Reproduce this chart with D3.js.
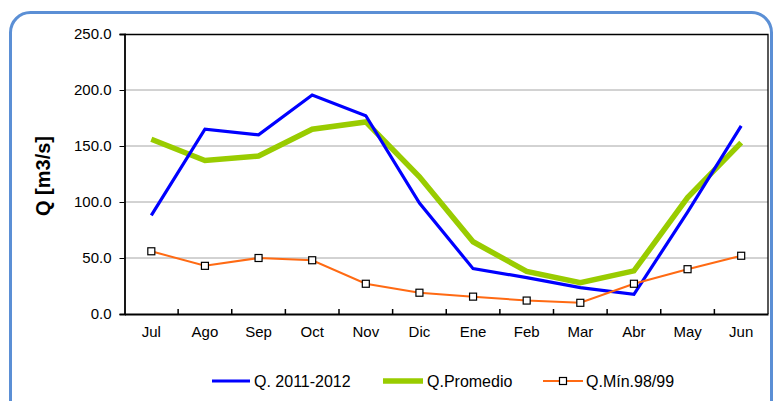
<!DOCTYPE html>
<html><head><meta charset="utf-8">
<script src="https://cdn.jsdelivr.net/npm/d3@7"></script>
<style>body{margin:0;background:#fff;}svg{display:block;font-family:"Liberation Sans",Arial,sans-serif;}</style>
</head><body><svg id="c" width="774" height="401"></svg>
<script>
const categories = ["Jul","Ago","Sep","Oct","Nov","Dic","Ene","Feb","Mar","Abr","May","Jun"];
const q2011 = [88,165,160,195.5,177,99,40.5,32.5,23.5,17.5,91,168];
const qProm = [156,137,141,165,171.5,122.5,64.5,38,28,38.5,104,153];
const qMin = [56,43,50,48,27,19,15.5,12,10,27,40,52];
const yTicks = [0,50,100,150,200,250];
const seriesNames = ["Q. 2011-2012","Q.Promedio","Q.Mín.98/99"];

const svg = d3.select("#c");
const L=124.5, R=768, T=34, B=314;
const x = d3.scaleBand().domain(categories).range([L,R]).padding(0);
const y = d3.scaleLinear().domain([0,250]).range([B,T]);
const cx = d => x(d)+x.bandwidth()/2;

// outer frame
svg.append("rect").attr("x",10.5).attr("y",12.5).attr("width",761).attr("height",420)
  .attr("rx",20).attr("fill","none").attr("stroke","#5b8fd5").attr("stroke-width",3);

// grid
svg.append("g").selectAll("line").data(yTicks.filter(v=>v>0&&v<250)).join("line")
  .attr("x1",L).attr("x2",R).attr("y1",d=>y(d)).attr("y2",d=>y(d))
  .attr("stroke","#a6a6a6").attr("stroke-width",1);

// top and right border
svg.append("path").attr("d",`M${L},${T+0.5}H${R}V${B}`).attr("fill","none").attr("stroke","#000").attr("stroke-width",1.3);

// y axis
const yAxis = d3.axisLeft(y).tickValues(yTicks).tickSize(5).tickPadding(8).tickFormat(d3.format(".1f"));
const gy = svg.append("g").attr("transform",`translate(${L},0)`).call(yAxis);
gy.select(".domain").attr("stroke","#000").attr("stroke-width",1.8);
gy.selectAll(".tick line").attr("stroke","#000");
gy.selectAll("text").attr("font-size",15).attr("fill","#000").style("font-family","Liberation Sans, Arial, sans-serif");

// x axis
const xAxis = d3.axisBottom(x).tickSize(0).tickPadding(12);
const gx = svg.append("g").attr("transform",`translate(0,${B})`).call(xAxis);
gx.select(".domain").attr("stroke","#000").attr("stroke-width",2.2);
gx.selectAll("text").attr("font-size",15).attr("fill","#000").style("font-family","Liberation Sans, Arial, sans-serif");
// inward ticks at category boundaries
svg.append("g").selectAll("line").data(categories.slice(1)).join("line")
  .attr("x1",d=>x(d)).attr("x2",d=>x(d)).attr("y1",B).attr("y2",B-5)
  .attr("stroke","#000").attr("stroke-width",1.5);

// y title
svg.append("text").attr("transform","translate(50,176) rotate(-90)")
  .attr("text-anchor","middle").attr("font-size",20).attr("font-weight","bold").text("Q [m3/s]");

const line = d3.line().x((d,i)=>cx(categories[i])).y(d=>y(d));
svg.append("path").datum(qProm).attr("d",line).attr("fill","none").attr("stroke","#99cc00").attr("stroke-width",5.5).attr("stroke-linejoin","miter");
svg.append("path").datum(q2011).attr("d",line).attr("fill","none").attr("stroke","#0000ff").attr("stroke-width",3.2).attr("stroke-linejoin","miter");
svg.append("path").datum(qMin).attr("d",line).attr("fill","none").attr("stroke","#ff6a13").attr("stroke-width",2);
svg.append("g").selectAll("rect").data(qMin).join("rect")
  .attr("x",(d,i)=>cx(categories[i])-3.5).attr("y",d=>y(d)-3.5).attr("width",7).attr("height",7)
  .attr("fill","#fff").attr("stroke","#000").attr("stroke-width",1.2);

// legend
const lg = svg.append("g");
const ly = 381;
const items = [
  {x1:212,x2:250,tx:254,color:"#0000ff",w:3.2,marker:false},
  {x1:383,x2:423,tx:427,color:"#99cc00",w:5.5,marker:false},
  {x1:543,x2:583,tx:586,color:"#ff6a13",w:2,marker:true}
];
items.forEach((it,i)=>{
  lg.append("line").attr("x1",it.x1).attr("x2",it.x2).attr("y1",ly).attr("y2",ly).attr("stroke",it.color).attr("stroke-width",it.w);
  if(it.marker) lg.append("rect").attr("x",(it.x1+it.x2)/2-3.5).attr("y",ly-3.5).attr("width",7).attr("height",7).attr("fill","#fff").attr("stroke","#000").attr("stroke-width",1.2);
  lg.append("text").attr("x",it.tx).attr("y",ly).attr("dy","0.35em").attr("font-size",16).text(seriesNames[i]);
});
</script></body></html>
